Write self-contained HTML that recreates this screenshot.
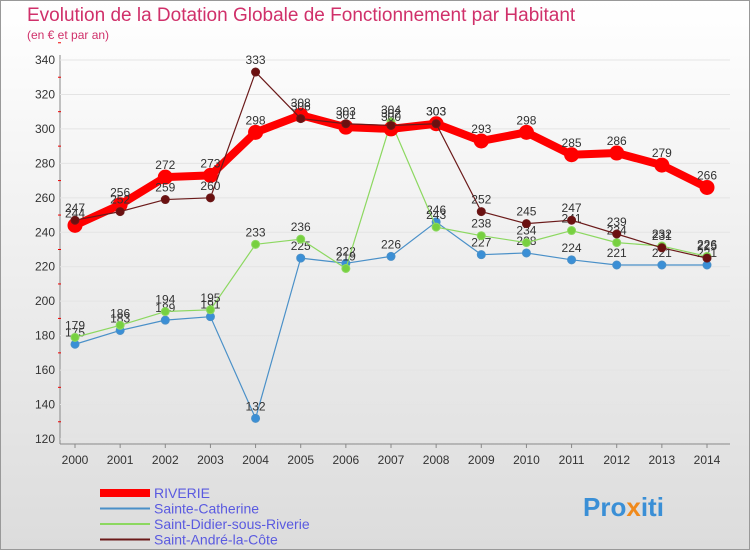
<!DOCTYPE html>
<html><head><meta charset="utf-8"><style>
body{margin:0;width:750px;height:550px;overflow:hidden;font-family:"Liberation Sans",sans-serif}
svg text{font-family:"Liberation Sans",sans-serif}
</style></head><body>
<svg id="c" width="750" height="550">
<defs><linearGradient id="bg" x1="0" y1="0" x2="0" y2="1"><stop offset="0" stop-color="#ffffff"/><stop offset="1" stop-color="#dcdcdc"/></linearGradient></defs>
<rect x="0.5" y="0.5" width="749" height="549" fill="url(#bg)" stroke="#999"/>
<text x="27" y="21" font-size="19" fill="#d0306a">Evolution de la Dotation Globale de Fonctionnement par Habitant</text>
<text x="27" y="39" font-size="12" fill="#d0306a">(en € et par an)</text>
<g id="axes"></g><g id="series"></g><g id="legend"></g>
<text x="583" y="516" font-size="26" font-weight="bold" fill="#3a8fd6">Pro<tspan fill="#f08a1c">x</tspan>iti</text>
</svg>
<script>
const years=[2000,2001,2002,2003,2004,2005,2006,2007,2008,2009,2010,2011,2012,2013,2014];
const yTicks=[120,140,160,180,200,220,240,260,280,300,320,340];
const riverie=[244,256,272,273,298,308,301,300,303,293,298,285,286,279,266];
const catherine=[175,183,189,191,132,225,222,226,246,227,228,224,221,221,221];
const didier=[179,186,194,195,233,236,219,304,243,238,234,241,234,232,226];
const andre=[247,252,259,260,333,306,303,302,303,252,245,247,239,231,225];
const NS="http://www.w3.org/2000/svg";
const X=i=>75+i*(707-75)/14;
const Y=v=>439-(v-120)*(439-60)/220;
function mk(t,a,p){const e=document.createElementNS(NS,t);for(const k in a)e.setAttribute(k,a[k]);p.appendChild(e);return e;}
const ax=document.getElementById('axes');
const l1=mk('line',{x1:60,y1:55,x2:60,y2:444,stroke:'#888'},ax);


const l2=mk('line',{x1:60,y1:444,x2:730,y2:444,stroke:'#888'},ax);


yTicks.forEach(v=>{
 const g=mk('line',{x1:60,y1:Y(v),x2:730,y2:Y(v),stroke:'#e4e4e4'},ax);
 
 
 const t=mk('text',{x:55,y:Y(v)+4,'font-size':12,'text-anchor':'end',fill:'#333'},ax);t.textContent=v;
 
 
 mk('line',{x1:58,y1:Y(v+10),x2:61,y2:Y(v+10),stroke:'#e00'},ax);
});
years.forEach((y,i)=>{
 const t=mk('text',{x:X(i),y:464,'font-size':12,'text-anchor':'middle',fill:'#333'},ax);t.textContent=y;
 
 
 mk('line',{x1:X(i),y1:444,x2:X(i),y2:448,stroke:'#888'},ax);
});
const S=document.getElementById('series');
function draw(vals,color,w,r,fill,name){
 const g=mk('g',{},S);
 
 
 mk('polyline',{points:vals.map((v,i)=>X(i)+','+Y(v)).join(' '),fill:'none',stroke:color,'stroke-width':w,'stroke-linejoin':'round'},g);
 vals.forEach((v,i)=>{
  const c=mk('circle',{cx:X(i),cy:Y(v),r:r,fill:fill,stroke:color,'stroke-width':1},g);
  
  
  const t=mk('text',{x:X(i),y:Y(v)-8,'font-size':12,'text-anchor':'middle',fill:'#333'},g);t.textContent=v;
  
  
 });
}
draw(catherine,'#4a90c8',1.2,4,'#3a8fd6','sainte-catherine-series');
draw(didier,'#8cd860',1.2,4,'#77d040','saint-didier-series');
draw(riverie,'#ff0000',8,7,'#ff0000','riverie-series');
draw(andre,'#6b1a1a',1.2,4,'#6b1010','saint-andre-series');
const L=document.getElementById('legend');
const items=[['RIVERIE','#ff0000',8],['Sainte-Catherine','#4a90c8',2],['Saint-Didier-sous-Riverie','#8cd860',2],['Saint-André-la-Côte','#6b1a1a',2]];
items.forEach((it,k)=>{
 const y=493+k*15.5;
 mk('line',{x1:100,y1:y,x2:150,y2:y,stroke:it[1],'stroke-width':it[2]},L);
 const t=mk('text',{x:154,y:y+5,'font-size':14,fill:'#5a5ae0'},L);t.textContent=it[0];
 
 
});
</script>
</body></html>
